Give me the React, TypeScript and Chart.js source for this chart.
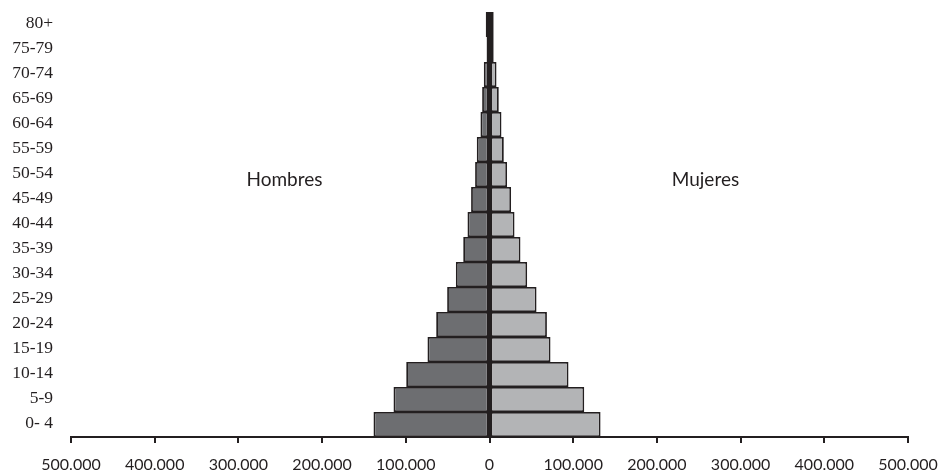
import React, { useEffect, useRef } from "react";
import { Chart, registerables } from "chart.js";

Chart.register(...registerables);

const categories = [
  "80+", "75-79", "70-74", "65-69", "60-64", "55-59", "50-54", "45-49", "40-44",
  "35-39", "30-34", "25-29", "20-24", "15-19", "10-14", "5-9", "0- 4",
];
const hombres = [
  4500, 3500, 6800, 8800, 10800, 15200, 17200, 22000, 26300,
  31400, 40200, 50600, 63700, 74100, 99500, 114700, 138600,
];
const mujeres = [
  5000, 5000, 8400, 11100, 14300, 17100, 21000, 25800, 29900,
  37000, 45000, 56200, 68600, 72900, 94400, 113200, 132700,
];
const xTicksMin = -500000;
const xTicksMax = 500000;
const xTickStep = 100000;
const seriesNames = ["Hombres", "Mujeres"];
const seriesLabelPos = [
  { x: -245000, y: 6.22 },
  { x: 258000, y: 6.22 },
];

const INK = "#231f20";

function fmt(v: number): string {
  const s = Math.round(Math.abs(v)).toString();
  return s.replace(/\B(?=(\d{3})+(?!\d))/g, ".");
}

const textPlugin = {
  id: "seriesText",
  afterDatasetsDraw(chart: any) {
    const { ctx, scales, chartArea } = chart;
    ctx.save();
    // vertical axis crossing at zero
    const x0 = scales.x.getPixelForValue(0);
    ctx.strokeStyle = INK;
    ctx.lineWidth = 3;
    ctx.beginPath();
    ctx.moveTo(x0, chartArea.top);
    ctx.lineTo(x0, chartArea.bottom);
    ctx.stroke();
    ctx.font = "19px Lato";
    ctx.fillStyle = INK;
    ctx.textAlign = "center";
    ctx.textBaseline = "middle";
    seriesNames.forEach((name, i) => {
      const p = seriesLabelPos[i];
      ctx.fillText(name, scales.x.getPixelForValue(p.x), scales.y.getPixelForValue(p.y));
    });
    ctx.restore();
  },
};

function zeroPad(s: any) {
  s.paddingTop = 0;
  s.paddingBottom = 0;
  s.paddingLeft = 0;
  s.paddingRight = 0;
}

export default function App() {
  const ref = useRef<HTMLCanvasElement | null>(null);
  useEffect(() => {
    if (!ref.current) return;
    const chart = new Chart(ref.current, {
      type: "bar",
      data: {
        labels: categories,
        datasets: [
          {
            label: seriesNames[0],
            data: hombres.map((v) => -v),
            backgroundColor: "#6d6e71",
            borderColor: INK,
            borderWidth: 1.8,
            borderSkipped: false,
            inflateAmount: 0,
            barPercentage: 1,
            categoryPercentage: 1,
          },
          {
            label: seriesNames[1],
            data: mujeres,
            backgroundColor: "#b3b4b6",
            borderColor: INK,
            borderWidth: 1.8,
            borderSkipped: false,
            inflateAmount: 0,
            barPercentage: 1,
            categoryPercentage: 1,
          },
        ],
      },
      options: {
        indexAxis: "y",
        animation: false,
        responsive: true,
        maintainAspectRatio: false,
        layout: { padding: { top: 12, right: 36, left: 0, bottom: 0 } },
        plugins: {
          legend: { display: false },
          tooltip: { enabled: false },
        },
        scales: {
          x: {
            stacked: true,
            min: xTicksMin,
            max: xTicksMax,
            afterFit: (s: any) => {
              s.height = 39;
              zeroPad(s);
            },
            ticks: {
              stepSize: xTickStep,
              color: INK,
              font: { family: "Lato", size: 16 },
              padding: 12,
              maxRotation: 0,
              callback: (v: any) => fmt(Number(v)),
            },
            grid: {
              drawOnChartArea: false,
              drawTicks: true,
              tickLength: 6,
              color: INK,
              lineWidth: 2,
            },
            border: { display: true, color: INK, width: 2 },
          },
          y: {
            stacked: true,
            afterFit: (s: any) => {
              s.width = 71;
              zeroPad(s);
            },
            ticks: {
              color: INK,
              font: { family: "Liberation Serif", size: 17.5 },
              padding: 18,
              labelOffset: -1.5,
            },
            grid: { display: false, drawTicks: false },
            border: { display: false },
          },
        },
      },
      plugins: [textPlugin],
    });
    return () => chart.destroy();
  }, []);
  return (
    <div style={{ position: "fixed", left: 0, top: 0, width: 944, height: 476, background: "#fff" }}>
      <canvas ref={ref} />
    </div>
  );
}
